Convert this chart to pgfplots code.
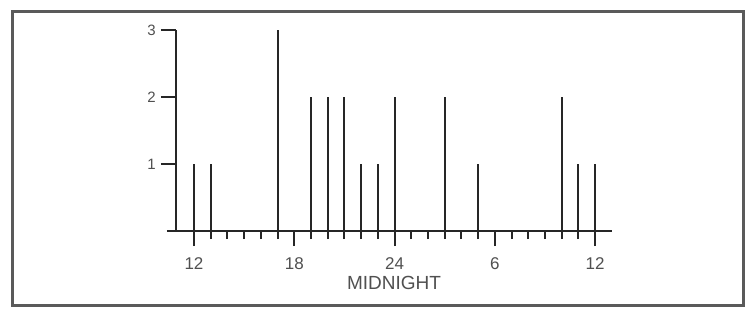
\documentclass[border=0pt]{standalone}
\usepackage{pgfplots}
\pgfplotsset{compat=1.18}
\usepackage{fontspec}
\setmainfont{Liberation Sans}
\definecolor{ink}{HTML}{262626}
\definecolor{txt}{HTML}{505050}
\definecolor{frame}{HTML}{5A5A5A}
\begin{document}
\begin{tikzpicture}[x=1pt,y=1pt]
\useasboundingbox (-176,-78) rectangle (572,231);
\fill[white] (-176,-78) rectangle (572,231);
\draw[frame, line width=3pt] (-163,-74) rectangle (567.5,219.5);
\begin{axis}[
  at={(0,0)}, anchor=origin,
  scale only axis,
  width=436pt, height=201pt,
  xmin=10.923, xmax=37.01,
  ymin=0, ymax=3,
  clip=false,
  axis x line=bottom, axis y line=left,
  axis line style={-, line width=2pt, ink},
  x axis line style={shorten <=-9pt},
  xtick={12,18,24,30,36},
  xticklabels={12,18,24,6,12},
  minor xtick={13,14,15,16,17,19,20,21,22,23,25,26,27,28,29,31,32,33,34,35},
  ytick={1,2,3},
  tick align=outside,
  major tick length=15pt,
  minor tick length=8pt,
  tick style={line width=2pt, ink},
  /pgf/number format/assume math mode=true,
  xticklabel style={font=\fontsize{17}{19}\selectfont, text=txt, inner sep=0pt, anchor=north, yshift=-11pt},
  yticklabel style={font=\fontsize{15}{17}\selectfont, text=txt, inner sep=0pt, anchor=east, xshift=-5pt},
  xlabel={MIDNIGHT},
  xlabel style={at={(axis description cs:0.5,0)}, anchor=north, yshift=-45pt, inner sep=0pt, font=\fontsize{19}{21}\selectfont, text=txt},
]
\addplot[ycomb, no marks, line width=2pt, ink] coordinates {
  (12,1) (13,1) (17,3) (19,2) (20,2) (21,2) (22,1) (23,1) (24,2)
  (27,2) (29,1) (34,2) (35,1) (36,1)
};
\end{axis}
\end{tikzpicture}
\end{document}
